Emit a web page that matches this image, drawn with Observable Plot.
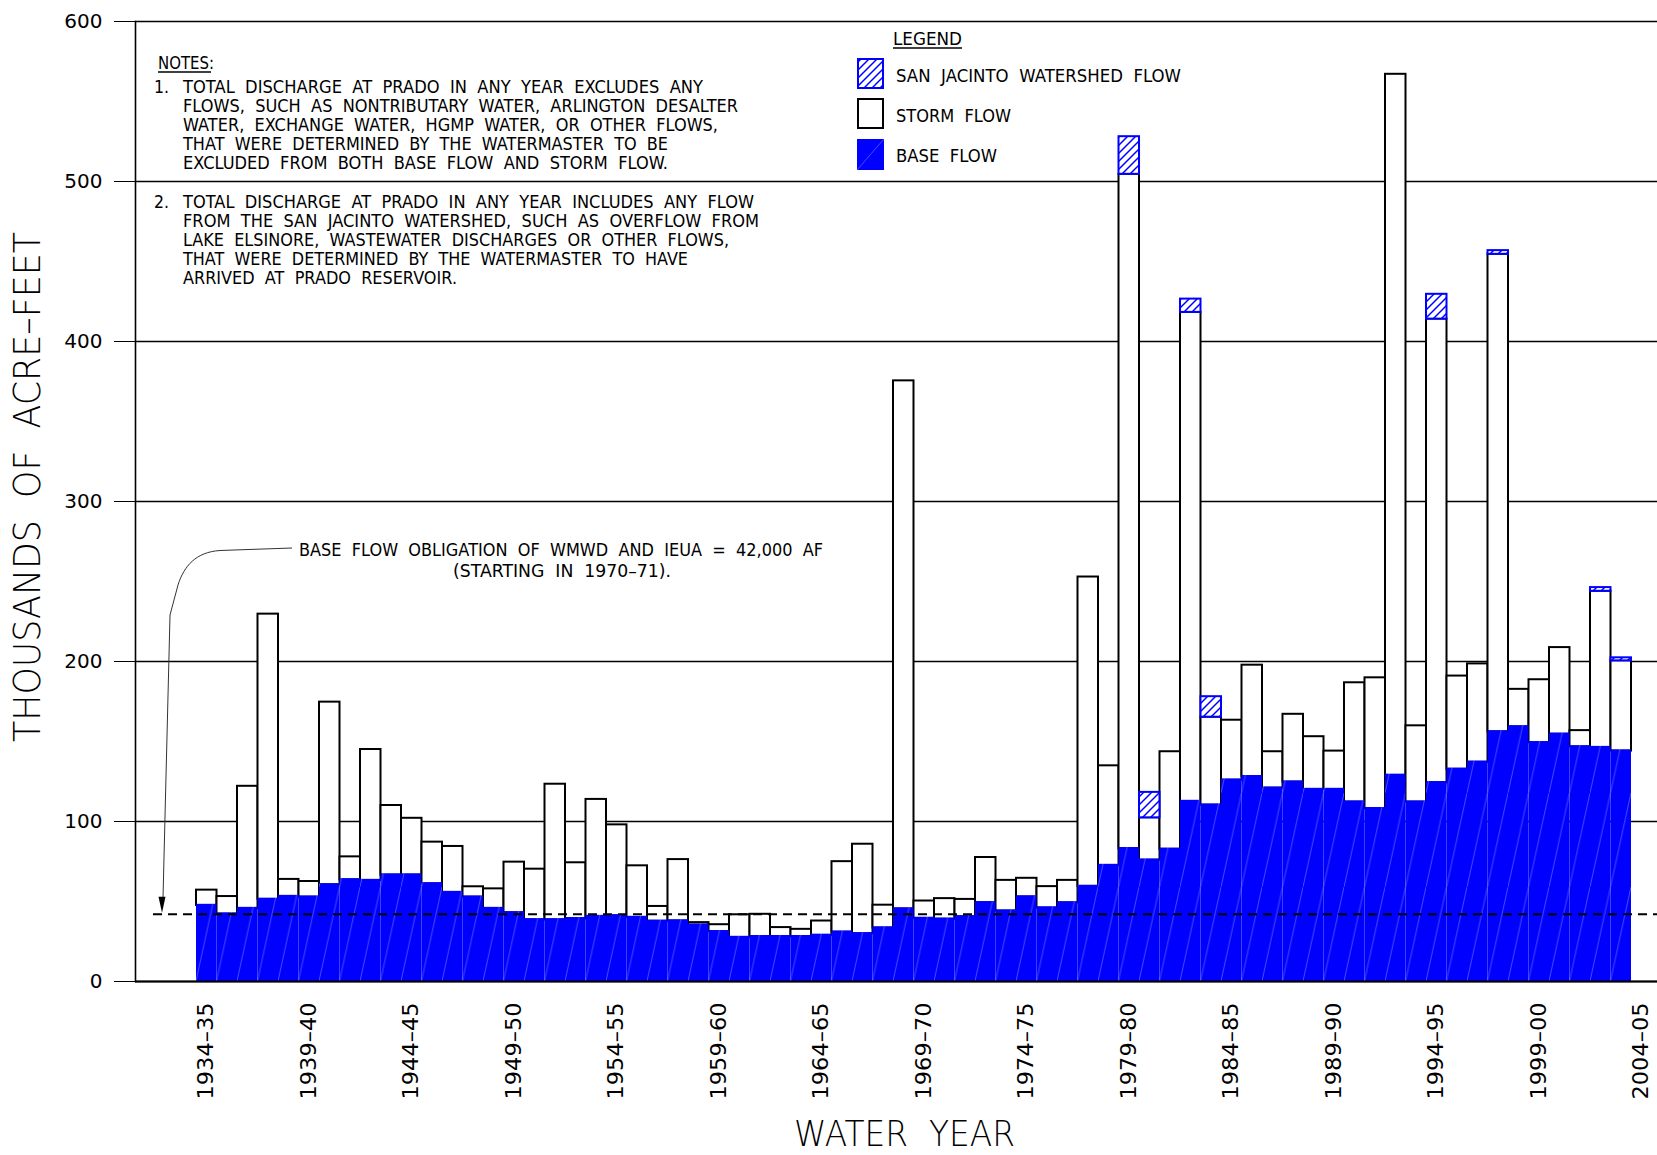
<!DOCTYPE html>
<html><head><meta charset="utf-8">
<script src="https://cdn.jsdelivr.net/npm/d3@7"></script>
<script src="https://cdn.jsdelivr.net/npm/@observablehq/plot@0.6"></script>
<style>
html,body{margin:0;padding:0;background:#fff;}
#chart svg{display:block;}
</style>
</head><body><div id="chart"></div>
<script>
// ---------------- DATA (thousands of acre-feet) ----------------
const waterYears = [
  "1934-35","1935-36","1936-37","1937-38","1938-39","1939-40","1940-41","1941-42","1942-43","1943-44",
  "1944-45","1945-46","1946-47","1947-48","1948-49","1949-50","1950-51","1951-52","1952-53","1953-54",
  "1954-55","1955-56","1956-57","1957-58","1958-59","1959-60","1960-61","1961-62","1962-63","1963-64",
  "1964-65","1965-66","1966-67","1967-68","1968-69","1969-70","1970-71","1971-72","1972-73","1973-74",
  "1974-75","1975-76","1976-77","1977-78","1978-79","1979-80","1980-81","1981-82","1982-83","1983-84",
  "1984-85","1985-86","1986-87","1987-88","1988-89","1989-90","1990-91","1991-92","1992-93","1993-94",
  "1994-95","1995-96","1996-97","1997-98","1998-99","1999-00","2000-01","2001-02","2002-03","2003-04"
];
const baseFlow = [
  47.5, 42.1, 45.6, 51.3, 53.1, 52.7, 60.4, 63.5, 63.1, 66.5,
  66.5, 61.0, 55.6, 52.7, 45.6, 42.9, 38.5, 38.5, 39.2, 40.6,
  41.0, 40.0, 37.6, 37.8, 35.2, 31.1, 27.5, 28.0, 28.0, 28.0,
  28.8, 30.8, 29.8, 33.4, 45.3, 39.4, 38.9, 40.4, 49.2, 44.0,
  52.8, 45.9, 49.1, 59.4, 72.5, 83.0, 75.8, 82.6, 112.5, 110.2,
  125.8, 128.0, 120.8, 124.6, 120.0, 120.0, 112.1, 108.0, 128.8, 112.1,
  124.2, 132.6, 137.0, 156.0, 159.1, 149.2, 154.5, 146.6, 146.2, 144.0
];
const stormFlow = [
  9.6, 11.0, 76.4, 178.3, 10.7, 9.8, 114.2, 14.4, 81.9, 43.5,
  35.5, 26.1, 28.8, 6.5, 12.3, 31.7, 31.7, 84.8, 35.0, 73.2,
  56.9, 32.3, 9.3, 38.4, 1.6, 4.4, 14.2, 14.0, 5.7, 4.6,
  9.0, 44.1, 56.0, 14.3, 330.1, 10.9, 12.9, 10.9, 28.3, 19.2,
  11.7, 13.4, 14.1, 193.4, 62.3, 421.5, 26.5, 61.0, 305.7, 55.0,
  37.5, 69.7, 22.8, 42.4, 33.0, 24.0, 74.6, 81.8, 438.2, 47.7,
  289.8, 58.3, 61.5, 298.5, 23.5, 39.4, 54.2, 10.2, 97.7, 56.4
];
const sanJacintoFlow = [
  0, 0, 0, 0, 0, 0, 0, 0, 0, 0,
  0, 0, 0, 0, 0, 0, 0, 0, 0, 0,
  0, 0, 0, 0, 0, 0, 0, 0, 0, 0,
  0, 0, 0, 0, 0, 0, 0, 0, 0, 0,
  0, 0, 0, 0, 0, 23.5, 15.9, 0, 8.3, 12.8,
  0, 0, 0, 0, 0, 0, 0, 0, 0, 0,
  15.5, 0, 0, 2.3, 0, 0, 0, 0, 2.3, 1.9
];
const xTickLabels = ["1934–35","1939–40","1944–45","1949–50","1954–55","1959–60","1964–65",
  "1969–70","1974–75","1979–80","1984–85","1989–90","1994–95","1999–00","2004–05"];
const yTicks = [0, 100, 200, 300, 400, 500, 600];
const obligation = 42; // 42,000 AF

const notes1 = ["TOTAL  DISCHARGE  AT  PRADO  IN  ANY  YEAR  EXCLUDES  ANY",
  "FLOWS,  SUCH  AS  NONTRIBUTARY  WATER,  ARLINGTON  DESALTER",
  "WATER,  EXCHANGE  WATER,  HGMP  WATER,  OR  OTHER  FLOWS,",
  "THAT  WERE  DETERMINED  BY  THE  WATERMASTER  TO  BE",
  "EXCLUDED  FROM  BOTH  BASE  FLOW  AND  STORM  FLOW."];
const notes2 = ["TOTAL  DISCHARGE  AT  PRADO  IN  ANY  YEAR  INCLUDES  ANY  FLOW",
  "FROM  THE  SAN  JACINTO  WATERSHED,  SUCH  AS  OVERFLOW  FROM",
  "LAKE  ELSINORE,  WASTEWATER  DISCHARGES  OR  OTHER  FLOWS,",
  "THAT  WERE  DETERMINED  BY  THE  WATERMASTER  TO  HAVE",
  "ARRIVED  AT  PRADO  RESERVOIR."];
const legendLabels = ["SAN  JACINTO  WATERSHED  FLOW", "STORM  FLOW", "BASE  FLOW"];

// ---------------- TABLE ----------------
const rows = waterYears.map((wy, i) => ({
  i, wy, base: baseFlow[i], storm: stormFlow[i], sj: sanJacintoFlow[i]
}));

const W = 1657, H = 1155;
const FONT = "'DejaVu Sans', sans-serif";

const plot = Plot.plot({
  width: W, height: H,
  marginLeft: 135, marginRight: 0, marginTop: 21, marginBottom: 174,
  style: {fontFamily: FONT, background: "#fff", color: "#000"},
  x: {type: "linear", domain: [0, waterYears.length], range: [196, 1631]},
  y: {domain: [0, 600], range: [981, 21]},
  marks: [
    Plot.ruleY(yTicks, {stroke: "#000", strokeWidth: 1.6}),
    Plot.rect(rows, {x1: "i", x2: d => d.i + 1, y1: "base", y2: d => d.base + d.storm,
      fill: "#fff", stroke: "#000", strokeWidth: 2}),
    Plot.rect(rows.filter(d => d.sj > 0), {x1: "i", x2: d => d.i + 1,
      y1: d => d.base + d.storm, y2: d => d.base + d.storm + d.sj,
      fill: "url(#sjHatch)", stroke: "#0000ff", strokeWidth: 2}),
    Plot.rect(rows, {x1: "i", x2: d => d.i + 1, y1: 0, y2: "base",
      fill: "url(#baseFill)", insetTop: -1.2}),
    Plot.ruleY([obligation], {stroke: "#000", strokeWidth: 2, strokeDasharray: "9,6", insetLeft: 18}),
    Plot.ruleY([0], {stroke: "#000", strokeWidth: 2}),
    Plot.frame({anchor: "left", stroke: "#000", strokeWidth: 1.6}),
    Plot.axisY({ticks: yTicks, tickSize: 21, tickPadding: 12, fontSize: 20, label: null, tickFormat: d => String(d)}),
    Plot.axisX({ticks: xTickLabels.map((_, k) => k * 5 + 0.5),
      tickFormat: d => xTickLabels[Math.round((d - 0.5) / 5)],
      tickRotate: -90, tickSize: 0, tickPadding: 21, fontSize: 21, label: null})
  ]
});

document.getElementById("chart").appendChild(plot);
const svg = d3.select(plot);
const yS = plot.scale("y"), xS = plot.scale("x");

// patterns
const defs = svg.insert("defs", ":first-child");
const bp = defs.append("pattern").attr("id", "baseFill").attr("patternUnits", "userSpaceOnUse")
  .attr("x", xS.apply(0)).attr("y", yS.apply(0)).attr("width", 20.5).attr("height", 94);
bp.append("rect").attr("width", 20.5).attr("height", 94).attr("fill", "#0000ff");
bp.append("line").attr("x1", 0).attr("y1", 94).attr("x2", 20.5).attr("y2", 0)
  .attr("stroke", "#6a6aff").attr("stroke-width", 0.7);
const hp = defs.append("pattern").attr("id", "sjHatch").attr("patternUnits", "userSpaceOnUse")
  .attr("width", 8).attr("height", 8);
hp.append("rect").attr("width", 8).attr("height", 8).attr("fill", "#fff");
hp.append("path").attr("d", "M-2,2 L2,-2 M0,8 L8,0 M6,10 L10,6")
  .attr("stroke", "#0000ff").attr("stroke-width", 1.5);

// tick labels x: fixed length
svg.selectAll("g[aria-label='x-axis tick label'] text")
  .attr("textLength", 97).attr("lengthAdjust", "spacingAndGlyphs");

const ann = svg.append("g").attr("font-family", FONT).attr("fill", "#000").attr("text-anchor", "start");
function txt(s, x, y, len, size, opts = {}) {
  const t = ann.append("text").attr("x", x).attr("y", y).attr("font-size", size).text(s)
    .attr("text-anchor", "start")
    .attr("textLength", len).attr("lengthAdjust", "spacingAndGlyphs").style("white-space", "pre");
  if (opts.weight) t.attr("font-weight", opts.weight);
  if (opts.transform) t.attr("transform", opts.transform);
  return t;
}

// Notes
txt("NOTES:", 158, 69, 56, 18);
ann.append("line").attr("x1", 158).attr("x2", 211).attr("y1", 72).attr("y2", 72).attr("stroke", "#000").attr("stroke-width", 1.3);
const n1End = [703, 738, 718, 668, 668];
const n2End = [754, 759, 729, 688, 457];
const n1Base = [93.3, 112.3, 131.3, 150.3, 169.3];
const n2Base = [207.7, 226.7, 245.7, 264.7, 283.7];
txt("1.", 154, n1Base[0], 15, 18);
notes1.forEach((s, k) => txt(s, 183, n1Base[k], n1End[k] - 183, 18));
txt("2.", 154, n2Base[0], 15, 18);
notes2.forEach((s, k) => txt(s, 183, n2Base[k], n2End[k] - 183, 18));

// Legend
txt("LEGEND", 893, 45, 69, 18);
ann.append("line").attr("x1", 893).attr("x2", 962).attr("y1", 48).attr("y2", 48).attr("stroke", "#000").attr("stroke-width", 1.3);
const lgY = [59, 99, 139];
ann.append("rect").attr("x", 858).attr("y", lgY[0]).attr("width", 25).attr("height", 29)
  .attr("fill", "url(#sjHatch)").attr("stroke", "#0000ff").attr("stroke-width", 2);
ann.append("rect").attr("x", 858).attr("y", lgY[1]).attr("width", 25).attr("height", 29)
  .attr("fill", "#fff").attr("stroke", "#000").attr("stroke-width", 2);
ann.append("rect").attr("x", 857).attr("y", lgY[2]).attr("width", 27).attr("height", 31)
  .attr("fill", "#0000ff");
ann.append("line").attr("x1", 857).attr("y1", 170).attr("x2", 884).attr("y2", 139)
  .attr("stroke", "#6a6aff").attr("stroke-width", 0.7);
const lgEnd = [1181, 1011, 997];
legendLabels.forEach((s, k) => txt(s, 896, lgY[k] + 23, lgEnd[k] - 896, 18));

// Obligation annotation
txt("BASE  FLOW  OBLIGATION  OF  WMWD  AND  IEUA  =  42,000  AF", 299, 556, 524, 18);
txt("(STARTING  IN  1970–71).", 453, 577, 218, 18);
const tipY = yS.apply(obligation) - 1;
ann.append("path")
  .attr("d", `M292,548 L220,550.5 C196,552 184,566 178,585 L170,615 L163,${tipY - 15}`)
  .attr("fill", "none").attr("stroke", "#333").attr("stroke-width", 1);
ann.append("path")
  .attr("d", `M162,${tipY} L158.5,${tipY - 16} L165.5,${tipY - 16} Z`).attr("fill", "#000");

// Axis titles
txt("THOUSANDS  OF  ACRE–FEET", 0, 0, 510, 37, {weight: 200, transform: "translate(40,742) rotate(-90)"});
txt("WATER  YEAR", 794, 1146, 221, 36, {weight: 200});
</script>
</body></html>
